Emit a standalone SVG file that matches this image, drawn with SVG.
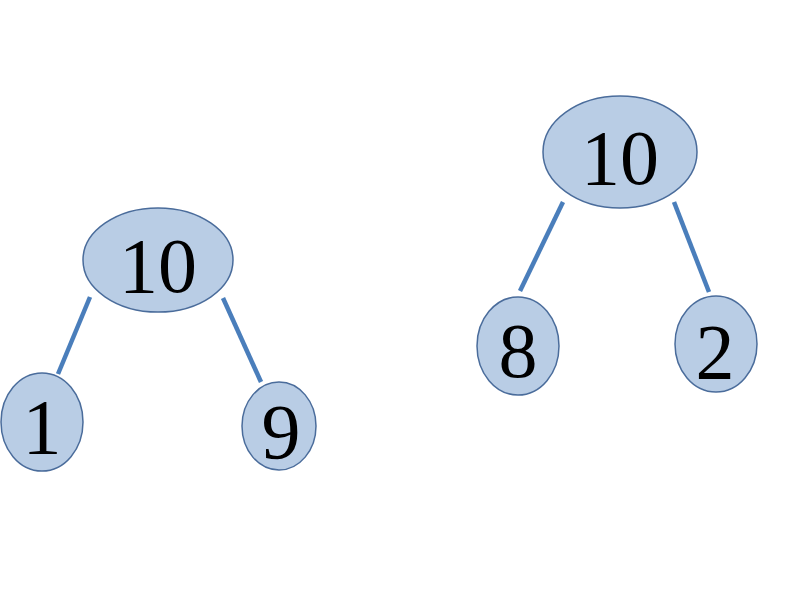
<svg xmlns="http://www.w3.org/2000/svg" width="800" height="600" viewBox="0 0 800 600">
<style>
.n{fill:#b9cde5;stroke:#4a6c9b;stroke-width:1.5}
.t{font-family:"Liberation Serif",serif;font-size:78px;fill:#000;text-anchor:middle}
.e{stroke:#4a7ebb;stroke-width:4.5;fill:none}
</style>
<rect width="800" height="600" fill="#fff"/>
<g id="connectors">
<line class="e" x1="90" y1="297" x2="58" y2="374"/>
<line class="e" x1="223" y1="298" x2="261" y2="382"/>
<line class="e" x1="563" y1="202" x2="520" y2="291"/>
<line class="e" x1="674" y1="202" x2="709" y2="292"/>
</g>
<g id="left-root"><ellipse class="n" cx="158" cy="260" rx="75" ry="52"/><text class="t" x="158" y="292">10</text></g>
<g id="left-1"><ellipse class="n" cx="42" cy="422" rx="41" ry="49"/><text class="t" x="42" y="453">1</text></g>
<g id="left-9"><ellipse class="n" cx="279" cy="426" rx="37" ry="44"/><text class="t" x="281" y="458">9</text></g>
<g id="right-root"><ellipse class="n" cx="620" cy="152" rx="77" ry="56"/><text class="t" x="620" y="184">10</text></g>
<g id="right-8"><ellipse class="n" cx="518" cy="346" rx="41" ry="49"/><text class="t" x="518" y="377">8</text></g>
<g id="right-2"><ellipse class="n" cx="716" cy="344" rx="41" ry="48"/><text class="t" x="715" y="378">2</text></g>
</svg>
